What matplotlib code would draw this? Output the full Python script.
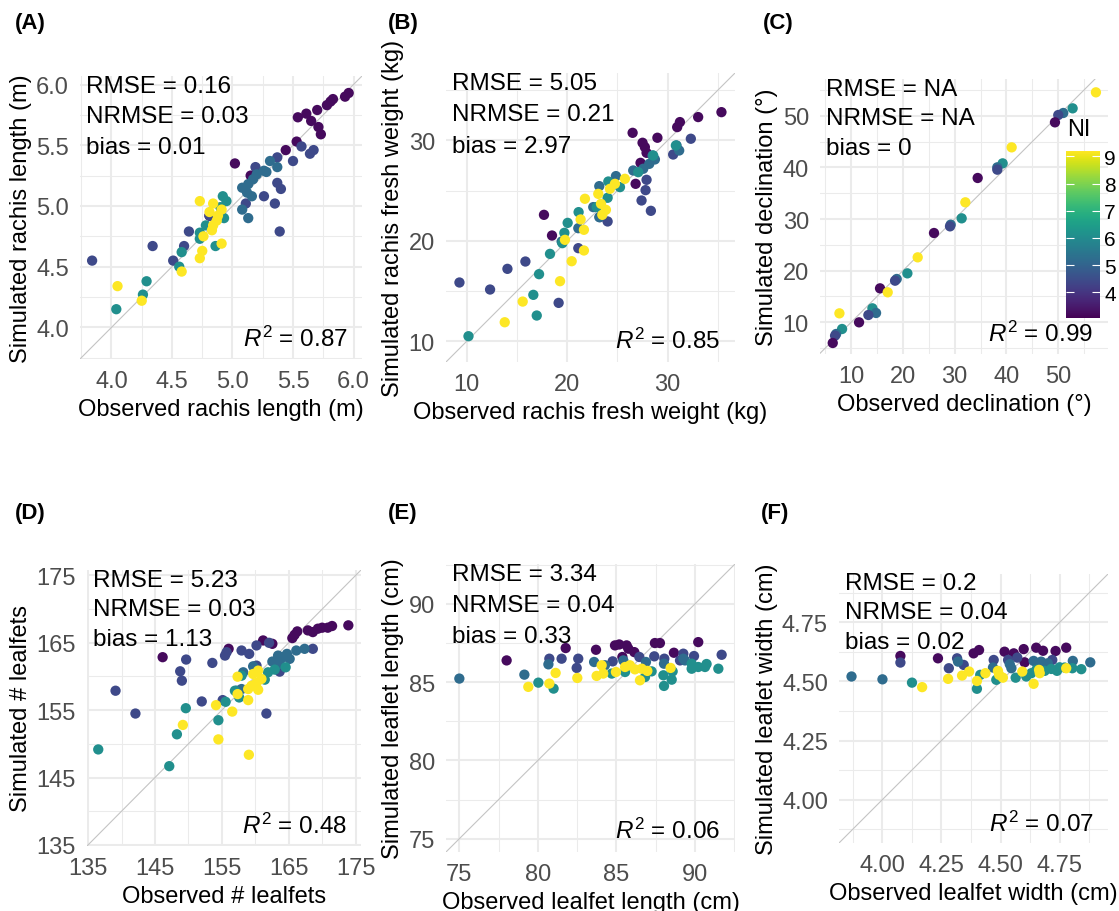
import numpy as np
import matplotlib
matplotlib.use("Agg")
import matplotlib.pyplot as plt
from matplotlib.colors import Normalize
from matplotlib.cm import ScalarMappable

plt.rcParams['font.family'] = ['Liberation Sans', 'DejaVu Sans']
plt.rcParams['mathtext.fontset'] = 'custom'
plt.rcParams['mathtext.rm'] = 'Liberation Sans'
plt.rcParams['mathtext.it'] = 'Liberation Sans:italic'

# NI levels seen in the points (viridis colours)
P, I, B, T, Y = 3.2, 4.4, 5.2, 6.1, 9.2
ni_min, ni_max = 3.05, 9.2

# (A) rachis length
a_obs = [5.96, 5.93, 5.83, 5.81, 5.78, 5.70, 5.61, 5.54, 5.65, 5.71, 5.73, 5.53, 5.44, 5.02, 5.15, 4.81,
         5.57, 5.67, 5.64, 5.50, 5.37, 5.19, 5.37, 5.40, 5.26, 5.11, 5.35, 5.39, 4.64, 4.60, 4.34, 4.51, 3.84, 4.81,
         5.31, 5.37, 5.26, 5.20, 5.17, 5.13, 5.08, 5.12, 5.16, 5.08, 5.13, 5.28,
         4.92, 4.95, 4.90, 4.93, 4.78, 4.73, 4.73, 4.86, 4.58, 4.56, 4.29, 4.26, 4.04,
         4.73, 4.84, 4.91, 4.81, 4.88, 4.87, 4.84, 4.83, 4.76, 4.91, 4.75, 4.73, 4.58, 4.05, 4.25]
a_sim = [5.93, 5.90, 5.88, 5.86, 5.83, 5.79, 5.76, 5.73, 5.70, 5.65, 5.59, 5.53, 5.46, 5.35, 5.25, 4.92,
         5.49, 5.46, 5.43, 5.37, 5.40, 5.32, 5.19, 5.14, 5.08, 5.02, 5.02, 4.79, 4.79, 4.67, 4.67, 4.55, 4.55, 4.92,
         5.37, 5.32, 5.29, 5.26, 5.22, 5.18, 5.15, 5.11, 5.08, 4.97, 4.90, 5.28,
         5.08, 5.04, 4.99, 4.90, 4.84, 4.78, 4.73, 4.67, 4.62, 4.50, 4.38, 4.27, 4.15,
         5.04, 5.02, 4.97, 4.95, 4.92, 4.88, 4.84, 4.80, 4.75, 4.69, 4.63, 4.57, 4.46, 4.34, 4.22]
a_ni = [P] * 16 + [I] * 18 + [B] * 12 + [T] * 13 + [Y] * 15

# (B) rachis fresh weight
b_obs = [35.37, 33.05, 31.23, 30.96, 26.52, 28.99, 27.51, 27.74, 27.91, 27.31, 26.82, 17.69, 18.49,
         32.32, 30.56, 27.91, 27.81, 27.41, 28.34, 24.03, 23.27, 21.11, 15.84, 14.05, 19.15, 9.27, 12.32,
         30.90, 31.16, 28.51, 28.74, 28.18, 27.58, 26.58, 24.86, 23.20, 22.60, 23.20, 21.11, 19.45,
         30.83, 28.57, 27.08, 24.10, 25.26, 24.03, 22.94, 21.14, 20.05, 19.72, 19.52, 18.29, 17.20, 16.63, 16.97, 10.17,
         25.75, 24.76, 24.26, 23.10, 23.37, 23.86, 23.50, 21.77, 21.34, 21.67, 19.78, 21.67, 20.45, 19.29, 15.57, 13.78]
b_sim = [32.82, 32.33, 31.83, 31.33, 30.76, 30.27, 29.77, 29.34, 28.77, 27.77, 25.68, 22.59, 20.53,
         30.17, 28.60, 26.08, 25.05, 24.02, 22.99, 21.93, 22.36, 19.27, 17.94, 17.21, 13.82, 15.85, 15.15,
         29.50, 29.00, 28.50, 28.11, 27.67, 27.18, 27.01, 26.45, 25.45, 23.36, 22.36, 21.26, 19.93,
         29.50, 28.50, 26.84, 25.91, 25.35, 24.29, 23.36, 22.86, 21.79, 20.80, 19.77, 18.70, 16.68, 14.62, 12.56, 10.50,
         26.18, 25.68, 25.18, 24.68, 23.69, 23.09, 22.59, 24.19, 22.13, 21.10, 20.10, 19.04, 17.97, 15.98, 13.95, 11.89]
b_ni = [P] * 13 + [I] * 14 + [B] * 13 + [T] * 16 + [Y] * 16

# (C) declination
c_obs = [57.27, 52.77, 50.96, 50.00, 49.36, 41.00, 39.26, 38.23, 38.23, 34.44, 32.06, 31.35, 29.23, 29.10, 26.01,
         22.86, 20.87, 18.81, 18.49, 15.59, 17.07, 14.12, 14.82, 13.34, 11.54, 7.75, 8.26, 7.11, 6.91, 6.46]
c_sim = [54.52, 51.42, 50.52, 50.13, 48.71, 43.87, 40.77, 40.00, 39.55, 37.94, 33.23, 30.13, 28.90, 28.58, 27.29,
         22.58, 19.48, 18.39, 18.06, 16.58, 15.81, 12.71, 11.81, 11.42, 10.00, 11.74, 8.71, 7.74, 7.42, 6.00]
c_ni = [Y, T, B, I, P, Y, T, B, I, P, Y, T, B, I, P,
        Y, T, B, I, P, Y, T, B, I, P, Y, T, B, I, P]

# (D) number of leaflets
d_obs = [173.86, 171.43, 170.79, 169.95, 169.31, 168.56, 167.82, 166.24, 165.84, 165.50, 161.14, 162.52, 155.99, 146.14,
         162.03, 160.15, 157.92, 159.06, 155.69, 155.45, 149.65, 153.56, 148.76, 149.01, 139.11, 142.08, 151.98, 161.63,
         155.10, 168.56, 160.15, 163.61,
         167.33, 166.09, 164.70, 164.11, 163.37, 162.52, 163.61, 159.65, 158.17, 157.92, 157.18, 165.10,
         164.50, 162.87, 161.88, 161.39, 157.92, 156.93, 157.57, 155.54, 149.60, 154.46, 148.27, 147.13, 136.53,
         160.40, 159.65, 160.89, 160.15, 159.41, 158.91, 160.40, 157.33, 157.33, 158.91, 154.11, 156.53, 149.16,
         154.46, 159.01]
d_sim = [167.55, 167.45, 167.20, 167.20, 167.05, 166.55, 166.80, 166.65, 166.15, 165.66, 165.31, 164.81, 164.07, 162.83,
         164.96, 164.57, 163.82, 163.32, 163.57, 163.07, 162.48, 161.98, 160.74, 159.35, 157.86, 154.48, 156.27, 154.48,
         156.47, 164.07, 161.58, 160.69,
         164.07, 163.82, 163.32, 162.83, 163.07, 162.18, 161.83, 161.48, 160.59, 158.11, 157.86, 162.58,
         161.33, 160.99, 160.59, 159.50, 160.09, 157.86, 156.86, 156.22, 155.27, 153.49, 151.40, 146.68, 149.16,
         160.84, 160.34, 159.60, 159.00, 158.60, 158.11, 158.00, 159.94, 157.36, 156.47, 155.72, 154.77, 152.79,
         150.65, 148.37]
d_ni = [P] * 14 + [I] * 18 + [B] * 12 + [T] * 13 + [Y] * 15

# (E) leaflet length
e_obs = [78.01, 81.77, 83.70, 84.91, 85.18, 85.65, 85.76, 86.14, 85.38, 87.45, 87.77, 88.66, 90.21,
         80.73, 81.51, 82.57, 84.76, 86.46, 87.41, 88.05, 89.26, 89.94, 91.70, 82.47, 89.05,
         75.00, 79.14, 80.67, 83.58, 84.27, 85.44, 86.88, 88.03, 89.26, 89.36,
         80.03, 81.00, 84.70, 85.55, 87.24, 86.82, 87.99, 88.52, 88.03, 89.79, 90.21, 90.64, 89.79, 91.49, 88.58, 90.74,
         79.39, 80.73, 81.13, 82.51, 83.74, 84.06, 84.16, 84.97, 85.55, 85.86, 86.18, 86.61, 86.97, 86.50, 88.45]
e_sim = [86.39, 87.18, 87.07, 87.35, 87.41, 87.35, 87.14, 86.92, 86.61, 87.50, 87.50, 86.88, 87.56,
         86.50, 86.50, 86.50, 86.33, 86.61, 86.65, 86.50, 86.82, 86.67, 86.75, 85.91, 86.39,
         85.23, 85.48, 86.14, 86.29, 86.08, 86.39, 86.29, 86.18, 86.50, 86.39,
         84.97, 84.59, 85.55, 85.65, 85.69, 85.33, 85.44, 85.16, 84.76, 85.86, 85.97, 85.97, 86.18, 85.86, 85.69, 86.16,
         84.70, 84.91, 85.59, 85.27, 85.40, 86.08, 85.55, 85.65, 85.97, 86.08, 85.82, 85.86, 85.72, 85.12, 85.91]
e_ni = [P] * 13 + [I] * 12 + [B] * 10 + [T] * 16 + [Y] * 15

# (F) leaflet width
f_obs = [4.076, 4.235, 4.386, 4.409, 4.517, 4.556, 4.598, 4.651, 4.680, 4.733, 4.778, 4.602,
         4.076, 4.281, 4.316, 4.344, 4.471, 4.532, 4.571, 4.719,
         3.869, 4.000, 4.320, 4.468, 4.539, 4.546, 4.640, 4.672, 4.806, 4.880, 4.700,
         4.125, 4.400, 4.414, 4.482, 4.564, 4.609, 4.630, 4.687, 4.715, 4.739, 4.771, 4.804, 4.842, 4.750, 4.651,
         4.168, 4.278, 4.337, 4.367, 4.400, 4.436, 4.489, 4.494, 4.510, 4.592, 4.640, 4.663, 4.666, 4.778]
f_sim = [4.608, 4.598, 4.619, 4.633, 4.626, 4.619, 4.637, 4.643, 4.630, 4.629, 4.643, 4.581,
         4.580, 4.556, 4.598, 4.570, 4.591, 4.591, 4.601, 4.591,
         4.521, 4.509, 4.584, 4.559, 4.573, 4.556, 4.587, 4.584, 4.587, 4.581, 4.577,
         4.495, 4.469, 4.528, 4.507, 4.516, 4.521, 4.535, 4.545, 4.553, 4.545, 4.559, 4.556, 4.552, 4.560, 4.549,
         4.476, 4.511, 4.525, 4.542, 4.502, 4.535, 4.545, 4.528, 4.516, 4.542, 4.490, 4.549, 4.535, 4.556]
f_ni = [P] * 12 + [I] * 8 + [B] * 11 + [T] * 15 + [Y] * 14

panels = [
    dict(tag="(A)", tagpos=(15, 24), obs=a_obs, sim=a_sim, ni=a_ni,
         xlabel="Observed rachis length (m)", ylabel="Simulated rachis length (m)",
         xlim=(3.74, 6.07), ylim=(3.74, 6.07),
         major=[4.0, 4.5, 5.0, 5.5, 6.0], minor=[3.75, 4.25, 4.75, 5.25, 5.75], fmt="{:.1f}",
         stats=["RMSE = 0.16", "NRMSE = 0.03", "bias = 0.01"], r2="0.87",
         box=(80, 77, 362, 360)),
    dict(tag="(B)", tagpos=(388, 24), obs=b_obs, sim=b_sim, ni=b_ni,
         xlabel="Observed rachis fresh weight (kg)", ylabel="Simulated rachis fresh weight (kg)",
         xlim=(7.93, 36.72), ylim=(7.93, 36.72),
         major=[10, 20, 30], minor=[15, 25, 35], fmt="{:.0f}",
         stats=["RMSE = 5.05", "NRMSE = 0.21", "bias = 2.97"], r2="0.85",
         box=(446, 74, 735, 363)),
    dict(tag="(C)", tagpos=(763, 24), obs=c_obs, sim=c_sim, ni=c_ni,
         xlabel="Observed declination (°)", ylabel="Simulated declination (°)",
         xlim=(4.0, 59.6), ylim=(3.87, 57.1),
         major=[10, 20, 30, 40, 50], minor=[5, 15, 25, 35, 45, 55], fmt="{:.0f}",
         stats=["RMSE = NA", "NRMSE = NA", "bias = 0"], r2="0.99",
         box=(820, 80, 1108, 355)),
    dict(tag="(D)", tagpos=(15, 513), obs=d_obs, sim=d_sim, ni=d_ni,
         xlabel="Observed # lealfets", ylabel="Simulated # lealfets",
         xlim=(134.85, 175.75), ylim=(134.85, 175.75),
         major=[135, 145, 155, 165, 175], minor=[140, 150, 160, 170], fmt="{:.0f}",
         stats=["RMSE = 5.23", "NRMSE = 0.03", "bias = 1.13"], r2="0.48",
         box=(87, 571, 361, 847)),
    dict(tag="(E)", tagpos=(388, 513), obs=e_obs, sim=e_sim, ni=e_ni,
         xlabel="Observed lealfet length (cm)", ylabel="Simulated leaflet length (cm)",
         xlim=(74.15, 92.55), ylim=(74.15, 92.55),
         major=[75, 80, 85, 90], minor=[77.5, 82.5, 87.5, 92.5], fmt="{:.0f}",
         stats=["RMSE = 3.34", "NRMSE = 0.04", "bias = 0.33"], r2="0.06",
         box=(446, 565, 735, 853)),
    dict(tag="(F)", tagpos=(761, 513), obs=f_obs, sim=f_sim, ni=f_ni,
         xlabel="Observed lealfet width (cm)", ylabel="Simulated leaflet width (cm)",
         xlim=(3.816, 4.955), ylim=(3.816, 4.955),
         major=[4.0, 4.25, 4.5, 4.75], minor=[3.875, 4.125, 4.375, 4.625, 4.875], fmt="{:.2f}",
         stats=["RMSE = 0.2", "NRMSE = 0.04", "bias = 0.02"], r2="0.07",
         box=(839, 575, 1108, 844)),
]

W, H = 1119, 912
fig = plt.figure(figsize=(W / 100, H / 100), dpi=100)
norm = Normalize(vmin=ni_min, vmax=ni_max)
cmap = plt.get_cmap("viridis")
grid_col = "#EBEBEB"

for p in panels:
    l, t, r, b = p["box"]
    ax = fig.add_axes([l / W, 1 - b / H, (r - l) / W, (b - t) / H])
    ax.set_xlim(p["xlim"])
    ax.set_ylim(p["ylim"])
    for s in ax.spines.values():
        s.set_visible(False)
    ax.set_xticks(p["major"])
    ax.set_yticks(p["major"])
    ax.set_xticklabels([p["fmt"].format(v) for v in p["major"]])
    ax.set_yticklabels([p["fmt"].format(v) for v in p["major"]])
    ax.set_xticks(p["minor"], minor=True)
    ax.set_yticks(p["minor"], minor=True)
    ax.grid(which="major", color=grid_col, lw=1.5, zorder=0)
    ax.grid(which="minor", color=grid_col, lw=0.75, zorder=0)
    ax.set_axisbelow(True)
    ax.tick_params(which="both", length=0, pad=8, labelsize=17, labelcolor="#4D4D4D")

    ax.axline((0, 0), slope=1, color="#C4C4C4", lw=0.8, zorder=1)
    ax.scatter(p["obs"], p["sim"], c=p["ni"], cmap=cmap, norm=norm, s=55,
               edgecolors="none", zorder=2, clip_on=False)

    ax.set_xlabel(p["xlabel"], fontsize=17, labelpad=4)
    ax.set_ylabel(p["ylabel"], fontsize=17, labelpad=3)

    for k, txt in enumerate(p["stats"]):
        ax.text(0.022, 0.965 - 0.108 * k, txt, transform=ax.transAxes,
                ha="left", va="center", fontsize=17.5, zorder=3)
    ax.text(0.948, 0.074, r"$R^2$ = " + p["r2"], transform=ax.transAxes,
            ha="right", va="center", fontsize=17.5, zorder=3)

    tx, ty = p["tagpos"]
    fig.text(tx / W, 1 - ty / H, p["tag"], fontsize=16, fontweight="bold",
             ha="left", va="center")

# colour bar inside panel C
cax = fig.add_axes([1066 / W, 1 - 319 / H, 34 / W, 167 / H])
cb = fig.colorbar(ScalarMappable(norm=norm, cmap=cmap), cax=cax, ticks=[4, 5, 6, 7, 8, 9])
cb.outline.set_visible(False)
cax.tick_params(left=True, right=True, direction="in", length=6, width=0.8,
                color="white", labelsize=15, labelcolor="black", pad=3)
fig.text(1067 / W, 1 - 130 / H, "NI", fontsize=17, ha="left", va="center")

fig.savefig("out.png", dpi=100, facecolor="white")
